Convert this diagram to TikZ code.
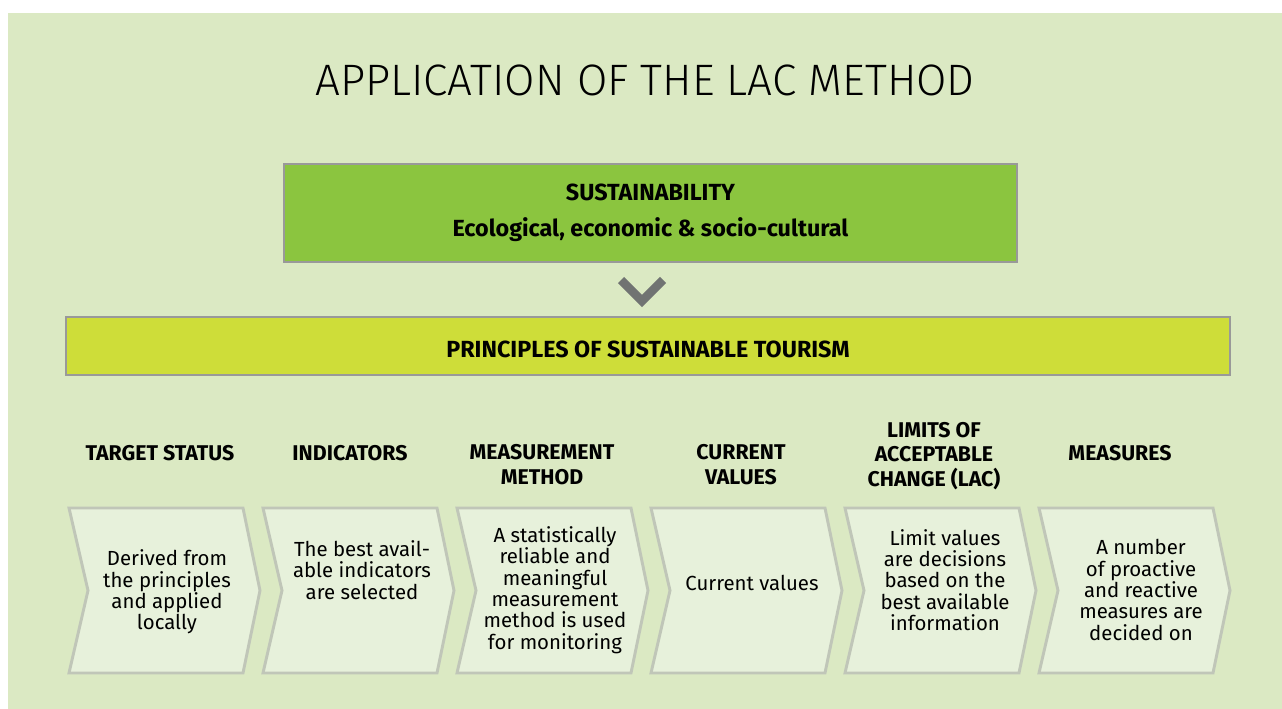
\documentclass[tikz,border=0pt]{standalone}
\usepackage{fontspec}
\setmainfont{Fira Sans}
\newfontfamily\titlefont{Fira Sans}[UprightFont={* Light}]

\definecolor{pagebg}{RGB}{219,233,195}
\definecolor{chevfill}{RGB}{231,241,219}
\definecolor{chevline}{RGB}{192,198,184}
\definecolor{sustgreen}{RGB}{139,197,63}
\definecolor{princyellow}{RGB}{206,221,57}
\definecolor{boxline}{RGB}{153,153,153}
\definecolor{markgray}{RGB}{112,115,114}

\begin{document}
\begin{tikzpicture}[x=0.75pt,y=-0.75pt,
  titletext/.style={font=\titlefont\fontsize{33}{36}\selectfont, inner sep=0pt},
  bandbox/.style={draw=boxline, line width=1.5pt, inner sep=0pt, align=center,
    font=\bfseries\fontsize{17.5}{27}\selectfont},
  vmark/.style={draw=markgray, line width=6.4pt, line join=miter, line cap=butt},
  chev/.style={fill=chevfill, draw=chevline, line width=2.2pt, line join=miter},
  headtext/.style={font=\bfseries\fontsize{16}{18.6}\selectfont, align=center, inner sep=0pt},
  bodytext/.style={font=\fontsize{15.3}{16}\selectfont, align=center, inner sep=0pt}
]
\useasboundingbox (0,0) rectangle (1282,709);
\fill[white] (0,0) rectangle (1282,709);
\fill[pagebg] (8,13) rectangle (1282,709);

% title
\node[titletext] (title) at (645,80) {APPLICATION OF THE LAC METHOD};

% sustainability box
\node[bandbox, fill=sustgreen, minimum width=549.75pt, minimum height=73.5pt]
  (sust) at (650.5,213) {SUSTAINABILITY\\Ecological, economic \& socio-cultural};

% principles bar (text sits slightly below the bar's middle)
\node[bandbox, fill=princyellow, minimum width=873pt, minimum height=43.5pt,
  text height=18pt, text depth=0pt]
  (princ) at (648,346) {PRINCIPLES OF SUSTAINABLE TOURISM};

% down mark between the two bands
\coordinate (vtip) at (642,301);
\draw[vmark] ([shift={(-21,-21)}]vtip) -- (vtip) -- ([shift={(21,-21)}]vtip);

% process chevrons
\foreach \L in {69,263,457,651,845,1039} {
  \draw[chev] (\L,508) -- ++(174,0) -- ++(17,82.5) -- ++(-17,82.5)
    -- ++(-174,0) -- ++(19,-82.5) -- cycle;
}

% step headings
\node[headtext] (h1) at (160,453) {TARGET STATUS};
\node[headtext] (h2) at (350,453) {INDICATORS};
\node[headtext] (h3) at (542,465) {MEASUREMENT\\METHOD};
\node[headtext] (h4) at (741,465) {CURRENT\\VALUES};
\node[headtext] (h5) at (934,456) {LIMITS OF\\ACCEPTABLE\\CHANGE (LAC)};
\node[headtext] (h6) at (1120,453) {MEASURES};

% step descriptions
\node[bodytext] (b1) at (167,592) {Derived from\\the principles\\and applied\\locally};
\node[bodytext] (b2) at (362,570) {The best avail-\\able indicators\\are selected};
\node[bodytext] (b3) at (555,590) {A statistically\\reliable and\\meaningful\\measurement\\method is used\\for monitoring};
\node[bodytext] (b4) at (752,583) {Current values};
\node[bodytext] (b5) at (945,580) {Limit values\\are decisions\\based on the\\best available\\information};
\node[bodytext] (b6) at (1141,590) {A number\\of proactive\\and reactive\\measures are\\decided on};
\end{tikzpicture}
\end{document}
